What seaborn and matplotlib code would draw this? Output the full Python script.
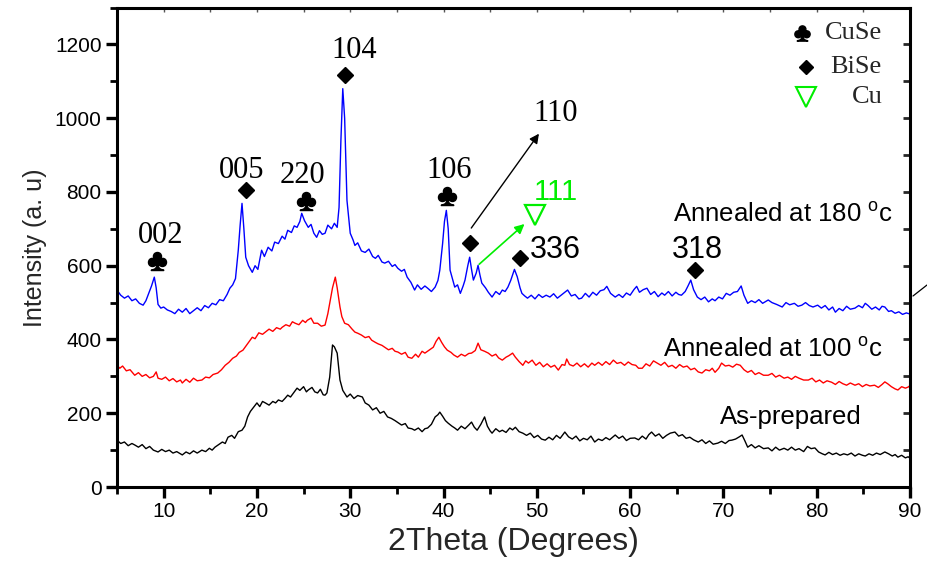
import matplotlib
matplotlib.use("Agg")
import matplotlib.pyplot as plt
import pandas as pd
import seaborn as sns
from matplotlib.lines import Line2D

# ---------------- data ----------------
two_theta_180 = [5.0, 5.4, 5.8, 6.2, 6.6, 7.0, 7.4, 7.8, 8.1, 8.4, 8.7, 9.0, 9.2, 9.4, 9.7, 10.0, 10.4, 10.8, 11.2, 11.6,
                 12.0, 12.4, 12.8, 13.2, 13.6, 14.0, 14.4, 14.8, 15.2, 15.6, 16.0, 16.4, 16.8, 17.1, 17.4, 17.7, 18.0, 18.2,
                 18.4, 18.6, 18.8, 19.1, 19.5, 19.8, 20.1, 20.5, 20.8, 21.2, 21.6, 21.9, 22.3, 22.7, 23.0, 23.3, 23.7, 24.0,
                 24.3, 24.6, 24.8, 25.1, 25.5, 25.8, 26.1, 26.4, 26.7, 27.0, 27.3, 27.6, 28.0, 28.3, 28.6, 28.8, 29.0, 29.2,
                 29.4, 29.65, 30.0, 30.3, 30.5, 30.8, 31.2, 31.6, 32.0, 32.4, 32.7, 33.0, 33.4, 33.7, 34.1, 34.5, 34.8, 35.1,
                 35.5, 35.8, 36.1, 36.5, 36.9, 37.2, 37.6, 38.0, 38.3, 38.7, 39.1, 39.4, 39.6, 39.9, 40.1, 40.3, 40.5, 40.7,
                 41.0, 41.2, 41.5, 41.8, 42.1, 42.3, 42.6, 42.8, 43.0, 43.2, 43.5, 43.7, 43.9, 44.1, 44.5, 44.8, 45.2, 45.6,
                 46.0, 46.3, 46.6, 46.9, 47.2, 47.6, 47.9, 48.2, 48.4, 48.7, 49.0, 49.4, 49.8, 50.2, 50.6, 51.0, 51.4, 51.8,
                 52.2, 52.6, 53.0, 53.3, 53.7, 54.1, 54.5, 54.8, 55.2, 55.6, 56.0, 56.4, 56.8, 57.2, 57.5, 57.9, 58.4, 58.8,
                 59.2, 59.6, 60.0, 60.4, 60.7, 61.0, 61.4, 61.8, 62.2, 62.6, 63.0, 63.4, 63.7, 64.1, 64.5, 64.9, 65.2, 65.5,
                 65.9, 66.2, 66.5, 66.8, 67.2, 67.6, 68.0, 68.4, 68.8, 69.1, 69.5, 69.9, 70.3, 70.7, 71.1, 71.5, 71.9, 72.2,
                 72.6, 73.0, 73.4, 73.8, 74.2, 74.8, 75.2, 75.7, 76.3, 76.7, 77.1, 77.6, 78.0, 78.4, 78.8, 79.2, 79.6, 80.1,
                 80.5, 80.9, 81.3, 81.7, 82.0, 82.4, 82.8, 83.2, 83.6, 84.1, 84.5, 84.9, 85.2, 85.5, 85.9, 86.3, 86.7, 87.0,
                 87.3, 87.7, 88.0, 88.4, 88.8, 89.2, 89.6, 90.0]
intensity_180 = [534, 520, 512, 518, 505, 510, 498, 493, 505, 525, 545, 569, 540, 495, 485, 488, 480, 476, 470, 482,
                 474, 484, 470, 478, 486, 478, 492, 486, 498, 494, 508, 505, 522, 539, 548, 565, 642, 710,
                 769, 700, 623, 600, 582, 600, 590, 642, 625, 650, 640, 664, 660, 680, 672, 696, 690, 708,
                 704, 720, 742, 722, 704, 712, 688, 677, 695, 685, 688, 710, 700, 715, 704, 758, 940, 1080,
                 1000, 777, 688, 670, 655, 662, 640, 636, 645, 625, 620, 628, 610, 607, 612, 598, 603, 593,
                 585, 590, 569, 555, 534, 548, 536, 545, 539, 530, 542, 560, 588, 660, 720, 750, 700, 588,
                 560, 542, 548, 525, 545, 561, 600, 623, 590, 561, 580, 601, 575, 553, 540, 528, 515, 530,
                 522, 534, 530, 542, 560, 590, 570, 540, 525, 518, 512, 520, 510, 522, 514, 520, 515, 524,
                 512, 520, 528, 534, 518, 522, 510, 512, 525, 515, 528, 520, 532, 535, 544, 525, 515, 522,
                 514, 526, 520, 535, 544, 528, 535, 539, 522, 530, 516, 526, 520, 530, 518, 528, 522, 520,
                 530, 545, 561, 535, 515, 508, 515, 502, 510, 505, 515, 510, 525, 520, 528, 530, 545, 520,
                 498, 505, 500, 508, 498, 507, 500, 495, 488, 500, 494, 498, 490, 493, 500, 492, 488, 493,
                 485, 492, 480, 488, 474, 484, 478, 490, 482, 485, 492, 486, 498, 492, 482, 488, 480, 490,
                 488, 476, 478, 471, 475, 468, 472, 469]

two_theta_100 = [5.0, 5.3, 5.6, 6.0, 6.4, 6.9, 7.3, 7.7, 8.1, 8.5, 8.9, 9.2, 9.4, 9.8, 10.2, 10.6, 11.0, 11.4, 11.8, 12.0,
                 12.4, 12.8, 13.2, 13.6, 14.1, 14.5, 14.9, 15.3, 15.8, 16.2, 16.6, 17.0, 17.4, 17.8, 18.1, 18.5, 18.9, 19.2,
                 19.5, 19.8, 20.2, 20.6, 20.9, 21.3, 21.7, 22.1, 22.5, 22.7, 23.1, 23.5, 23.8, 24.1, 24.5, 24.9, 25.2, 25.4,
                 25.8, 26.1, 26.5, 26.9, 27.3, 27.6, 27.8, 28.1, 28.4, 28.6, 28.9, 29.1, 29.4, 29.8, 30.2, 30.5, 30.8, 31.2,
                 31.6, 32.0, 32.3, 32.7, 33.0, 33.4, 33.7, 34.1, 34.5, 34.8, 35.1, 35.5, 35.9, 36.2, 36.6, 37.0, 37.3, 37.7,
                 38.0, 38.4, 38.9, 39.2, 39.5, 39.8, 40.1, 40.4, 40.8, 41.1, 41.5, 41.9, 42.3, 42.7, 43.0, 43.4, 43.7, 44.0,
                 44.4, 44.8, 45.2, 45.6, 45.9, 46.3, 46.7, 47.0, 47.4, 47.7, 48.1, 48.5, 48.8, 49.1, 49.5, 49.9, 50.3, 50.7,
                 51.1, 51.5, 51.9, 52.3, 52.7, 53.0, 53.2, 53.5, 53.9, 54.3, 54.7, 55.1, 55.5, 55.9, 56.2, 56.6, 57.0, 57.4,
                 57.8, 58.2, 58.6, 59.0, 59.4, 59.8, 60.2, 60.6, 60.9, 61.3, 61.7, 62.1, 62.5, 62.9, 63.3, 63.7, 64.1, 64.5,
                 64.9, 65.3, 65.7, 66.1, 66.5, 66.9, 67.3, 67.7, 68.1, 68.5, 68.8, 69.1, 69.5, 69.8, 70.2, 70.6, 71.0, 71.4,
                 71.8, 72.2, 72.6, 73.0, 73.4, 73.8, 74.3, 74.8, 75.2, 75.6, 76.0, 76.5, 76.9, 77.3, 77.7, 78.1, 78.6, 79.1,
                 79.5, 79.9, 80.3, 80.7, 81.1, 81.6, 82.0, 82.4, 82.8, 83.2, 83.6, 84.1, 84.5, 84.9, 85.3, 85.7, 86.2, 86.6,
                 87.0, 87.3, 87.6, 88.0, 88.4, 88.7, 89.1, 89.5, 89.8, 90.0]
intensity_100 = [330, 322, 328, 315, 318, 303, 310, 300, 305, 296, 300, 312, 295, 292, 298, 288, 294, 285, 290, 282,
                 292, 284, 295, 288, 290, 298, 296, 305, 309, 318, 330, 338, 349, 355, 365, 371, 385, 395,
                 406, 402, 418, 414, 420, 428, 422, 432, 428, 433, 440, 436, 448, 444, 440, 452, 446, 452,
                 458, 444, 444, 436, 439, 470, 498, 540, 569, 540, 488, 462, 444, 440, 428, 420, 417, 412,
                 405, 408, 398, 392, 388, 384, 379, 372, 376, 368, 366, 360, 365, 352, 349, 360, 352, 368,
                 363, 370, 379, 395, 406, 392, 380, 371, 365, 358, 352, 360, 355, 362, 363, 370, 390, 372,
                 368, 363, 355, 360, 350, 344, 352, 356, 363, 352, 340, 330, 342, 336, 344, 330, 338, 326,
                 334, 325, 330, 317, 332, 330, 347, 332, 328, 336, 326, 334, 325, 336, 330, 338, 330, 340,
                 332, 344, 335, 338, 330, 339, 332, 330, 322, 322, 334, 328, 342, 336, 330, 338, 326, 330,
                 322, 332, 325, 328, 318, 322, 312, 309, 318, 315, 322, 311, 322, 336, 328, 330, 325, 333,
                 330, 318, 311, 316, 305, 310, 303, 303, 308, 298, 303, 295, 298, 292, 300, 295, 290, 290,
                 295, 285, 290, 282, 288, 284, 278, 286, 280, 276, 282, 276, 280, 272, 278, 274, 276, 270,
                 278, 285, 280, 272, 266, 263, 272, 268, 271, 275]

two_theta_asprep = [5.0, 5.4, 5.8, 6.2, 6.6, 6.9, 7.3, 7.7, 8.1, 8.5, 8.9, 9.4, 9.8, 10.2, 10.6, 11.0, 11.4, 11.8, 12.0,
                    12.4, 12.8, 13.2, 13.6, 14.1, 14.5, 14.9, 15.2, 15.5, 15.9, 16.3, 16.6, 16.9, 17.3, 17.6, 18.0, 18.4,
                    18.7, 19.0, 19.3, 19.6, 20.0, 20.3, 20.6, 20.9, 21.3, 21.7, 22.0, 22.3, 22.7, 23.0, 23.3, 23.6, 24.0,
                    24.3, 24.6, 25.0, 25.3, 25.5, 25.9, 26.2, 26.5, 26.8, 27.1, 27.3, 27.5, 27.8, 28.1, 28.3, 28.6, 28.9,
                    29.2, 29.65, 30.0, 30.4, 30.8, 31.3, 31.6, 32.0, 32.4, 32.8, 33.2, 33.6, 34.0, 34.4, 34.8, 35.1, 35.5,
                    35.9, 36.2, 36.6, 36.9, 37.3, 37.7, 38.0, 38.3, 38.7, 39.1, 39.4, 39.6, 39.9, 40.2, 40.5, 40.9, 41.2,
                    41.5, 41.9, 42.3, 42.7, 43.0, 43.3, 43.6, 44.0, 44.4, 44.7, 45.0, 45.2, 45.6, 46.0, 46.3, 46.7, 47.1,
                    47.4, 47.7, 48.1, 48.5, 48.9, 49.3, 49.7, 50.1, 50.5, 50.9, 51.3, 51.7, 52.1, 52.5, 53.0, 53.4, 53.8,
                    54.2, 54.6, 55.0, 55.4, 55.8, 56.2, 56.6, 57.0, 57.4, 57.8, 58.4, 58.8, 59.2, 59.6, 60.0, 60.5, 60.9,
                    61.3, 61.7, 62.0, 62.3, 62.7, 63.1, 63.5, 63.9, 64.3, 64.8, 65.2, 65.6, 66.0, 66.4, 66.8, 67.3, 67.7,
                    68.1, 68.5, 68.9, 69.4, 69.8, 70.2, 70.6, 70.9, 71.3, 71.7, 72.0, 72.3, 72.6, 73.0, 73.4, 73.8, 74.3,
                    74.8, 75.2, 75.6, 76.0, 76.5, 76.9, 77.3, 77.7, 78.1, 78.6, 79.0, 79.4, 79.8, 80.2, 80.6, 80.9, 81.3,
                    81.7, 82.1, 82.5, 82.9, 83.3, 83.7, 84.1, 84.5, 84.9, 85.2, 85.6, 86.0, 86.4, 86.8, 87.3, 87.7, 88.1,
                    88.4, 88.7, 89.1, 89.5, 89.8, 90.0]
intensity_asprep = [127, 118, 122, 112, 118, 114, 108, 115, 104, 110, 100, 95, 102, 96, 100, 92, 96, 90, 87,
                    95, 90, 98, 92, 100, 96, 105, 100, 108, 115, 122, 118, 135, 140, 132, 150, 154,
                    165, 190, 205, 215, 228, 218, 232, 228, 222, 232, 228, 236, 232, 240, 249, 244, 258,
                    268, 262, 272, 258, 263, 270, 258, 255, 265, 250, 249, 255, 298, 385, 380, 363, 290,
                    262, 244, 252, 240, 248, 244, 228, 222, 209, 215, 200, 205, 190, 186, 180, 175, 168,
                    172, 160, 158, 154, 160, 150, 158, 160, 170, 190, 196, 203, 192, 180, 173, 165, 160,
                    154, 165, 158, 168, 176, 162, 154, 170, 190, 165, 152, 146, 158, 150, 154, 148, 160,
                    155, 162, 150, 146, 140, 146, 134, 140, 130, 127, 135, 128, 140, 132, 149, 136, 130,
                    138, 125, 132, 128, 138, 122, 130, 126, 134, 128, 141, 132, 138, 126, 132, 133, 128,
                    138, 130, 142, 149, 138, 144, 132, 140, 146, 149, 138, 142, 132, 135, 128, 122, 128,
                    118, 125, 116, 119, 124, 118, 126, 127, 130, 136, 141, 125, 108, 115, 106, 112, 104,
                    106, 98, 108, 100, 105, 100, 108, 100, 104, 96, 110, 104, 106, 95, 90, 87, 94,
                    88, 92, 86, 90, 87, 92, 84, 90, 86, 84, 90, 86, 92, 88, 95, 90, 84,
                    88, 81, 86, 79, 82, 78]

series_names = ["Annealed at 180", "Annealed at 100", "As-prepared"]
series_colors = ["#0000FF", "#FF0000", "#000000"]

peak_labels = ["002", "005", "220", "104", "106", "110"]
cuse_peaks = [9.3, 25.3, 40.4]
cuse_marks = [613, 775, 788]
bise_peaks = [18.8, 29.4, 42.8, 48.2, 67.0]
bise_marks = [805, 1116, 661, 620, 588]

# ---------------- figure ----------------
sns.set_theme(style="ticks")
plt.rcParams["font.family"] = ["Liberation Sans", "DejaVu Sans"]
plt.rcParams["mathtext.fontset"] = "custom"
plt.rcParams["mathtext.rm"] = "Liberation Sans"
plt.rcParams["mathtext.it"] = "Liberation Sans"

fig = plt.figure(figsize=(9.27, 5.69), dpi=100)
ax = fig.add_axes([0.1262, 0.1441, 0.8555, 0.8427])

frames = []
for name, xs, ys in zip(series_names,
                        [two_theta_180, two_theta_100, two_theta_asprep],
                        [intensity_180, intensity_100, intensity_asprep]):
    frames.append(pd.DataFrame({"two_theta": xs, "intensity": ys, "sample": name}))
df = pd.concat(frames, ignore_index=True)

sns.lineplot(data=df, x="two_theta", y="intensity", hue="sample",
             palette=dict(zip(series_names, series_colors)),
             estimator=None, sort=False, linewidth=1.0, legend=False, ax=ax)

ax.set_xlim(5, 90)
ax.set_ylim(0, 1300)
ax.set_xticks(list(range(10, 91, 10)))
ax.set_xticks(list(range(5, 90, 10)), minor=True)
ax.set_yticks(list(range(0, 1201, 200)))
ax.set_yticks(list(range(100, 1301, 200)), minor=True)

for s in ax.spines.values():
    s.set_linewidth(2.2)
    s.set_color("black")
    s.set_visible(True)

ax.tick_params(axis="both", which="major", direction="out", length=8, width=2.4,
               labelsize=15, colors="black", pad=3)
ax.tick_params(axis="both", which="minor", direction="out", length=5, width=2.0, colors="black")

# inward ticks on top / right
sec_x = ax.secondary_xaxis("top")
sec_x.set_xticks(list(range(5, 91, 5)))
sec_x.tick_params(direction="in", length=3, width=1.0, labeltop=False, colors="#555555")
sec_x.spines["top"].set_visible(False)
sec_y = ax.secondary_yaxis("right")
sec_y.set_yticks(list(range(0, 1301, 100)))
sec_y.tick_params(direction="in", length=5, width=2.0, labelright=False)
sec_y.spines["right"].set_visible(False)

ax.set_xlabel("2Theta (Degrees)", fontsize=23, labelpad=4)
ax.set_ylabel("Intensity (a. u)", fontsize=18, labelpad=6)

# ---------------- phase markers ----------------
ax.plot(cuse_peaks, cuse_marks, linestyle="none", marker=r"$\clubsuit$", ms=13, color="black")
ax.plot(bise_peaks, bise_marks, linestyle="none", marker="D", ms=8.5, color="black")
ax.plot([49.8], [737], linestyle="none", marker="v", ms=15, mfc="none", mec="#00EE00", mew=1.6)

serif = ["Liberation Serif", "DejaVu Serif"]
label_pos = [(9.7, 683), (18.4, 859), (24.9, 845), (30.4, 1184), (40.6, 859), (52.05, 1013)]
for lab, (px, py) in zip(peak_labels, label_pos):
    ax.text(px, py, lab, ha="center", va="center", fontsize=22, family=serif, color="black")

ax.text(49.3, 642, "336", ha="left", va="center", fontsize=22, color="black")
ax.text(67.2, 642, "318", ha="center", va="center", fontsize=22, color="black")
ax.text(52.0, 799, "111", ha="center", va="center", fontsize=21, color="#00EE00")

ax.annotate("", xy=(50.4, 964), xytext=(42.8, 696),
            arrowprops=dict(arrowstyle="-|>", color="black", lw=1.0, mutation_scale=14))
ax.annotate("", xy=(48.9, 718), xytext=(43.6, 599),
            arrowprops=dict(arrowstyle="-|>", color="#00EE00", lw=1.2, mutation_scale=14))

# curve labels
ax.text(64.6, 737, r"Annealed at 180 $^{\mathrm{o}}$c", ha="left", va="center", fontsize=18.5, color="black")
ax.text(63.5, 371, r"Annealed at 100 $^{\mathrm{o}}$c", ha="left", va="center", fontsize=18.5, color="black")
ax.text(69.6, 190, "As-prepared", ha="left", va="center", fontsize=18.5, color="black")

# legend-like key
ax.plot([78.4], [1230], linestyle="none", marker=r"$\clubsuit$", ms=11, color="black")
ax.plot([78.8], [1138], linestyle="none", marker="D", ms=7.5, color="black")
ax.plot([78.8], [1058], linestyle="none", marker="v", ms=14, mfc="none", mec="#00EE00", mew=1.5)
ax.text(80.9, 1230, "CuSe", ha="left", va="center", fontsize=19, family=serif)
ax.text(81.4, 1138, "BiSe", ha="left", va="center", fontsize=19, family=serif)
ax.text(83.8, 1058, "Cu", ha="left", va="center", fontsize=19, family=serif)

# small stray stroke outside right edge in the reference
fig.add_artist(Line2D([913 / 927, 1.0], [1 - 296 / 569, 1 - 285 / 569], color="black", lw=0.9))

fig.savefig("out.png", dpi=100)
